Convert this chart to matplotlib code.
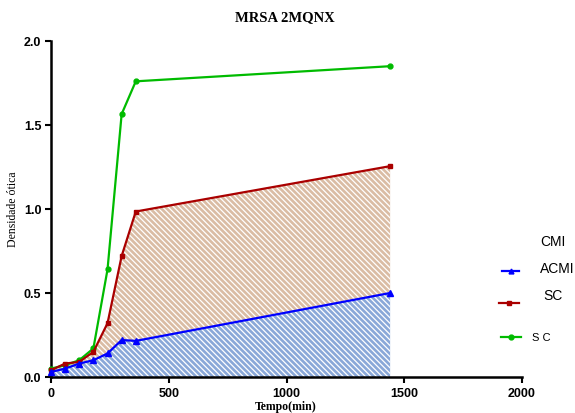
import matplotlib
matplotlib.use("Agg")
import matplotlib.pyplot as plt
from matplotlib.lines import Line2D

time_min = [0, 60, 120, 180, 240, 300, 360, 1440]
acmi = [0.03, 0.05, 0.08, 0.10, 0.14, 0.22, 0.215, 0.50]
sc_red = [0.04, 0.08, 0.09, 0.15, 0.32, 0.72, 0.985, 1.255]
sc_green = [0.05, 0.07, 0.10, 0.17, 0.64, 1.565, 1.76, 1.85]

x_ticks = [0, 500, 1000, 1500, 2000]
y_ticks = [0.0, 0.5, 1.0, 1.5, 2.0]
x_tick_labels = ["0", "500", "1000", "1500", "2000"]
y_tick_labels = ["0.0", "0.5", "1.0", "1.5", "2.0"]

plt.rcParams['hatch.linewidth'] = 0.9

fig = plt.figure(figsize=(5.75, 4.14), dpi=100)
ax = fig.add_axes([51/575, 1 - 378/414, (522-51)/575, (378-42)/414])

ax.fill_between(time_min, 0, acmi, facecolor='#8aa8d8', edgecolor='white',
                hatch='\\\\\\\\\\\\', linewidth=0, zorder=1)
ax.fill_between(time_min, acmi, sc_red, facecolor='#dabca4', edgecolor='white',
                hatch='\\\\\\\\\\\\', linewidth=0, zorder=1)

ax.plot(time_min, sc_green, color='#00bb00', marker='o', markersize=3.5, linewidth=1.6, zorder=3, clip_on=False)
ax.plot(time_min, sc_red, color='#aa0000', marker='s', markersize=3.5, linewidth=1.6, zorder=3, clip_on=False)
ax.plot(time_min, acmi, color='#0000ff', marker='^', markersize=4, linewidth=1.6, zorder=4, clip_on=False)

ax.set_xlim(0, 2000)
ax.set_ylim(0, 2.0)
ax.set_xticks(x_ticks)
ax.set_xticklabels(x_tick_labels, fontfamily='Liberation Sans', fontweight='bold', fontsize=9)
ax.set_yticks(y_ticks)
ax.set_yticklabels(y_tick_labels, fontfamily='Liberation Sans', fontweight='bold', fontsize=9)
ax.tick_params(direction='out', length=4, width=1.5, pad=3)
for s in ['top', 'right']:
    ax.spines[s].set_visible(False)
for s in ['left', 'bottom']:
    ax.spines[s].set_linewidth(1.8)

fig.text(285/575, 1 - 18/414, "MRSA 2MQNX", ha='center', va='center',
         fontfamily='Liberation Serif', fontweight='bold', fontsize=10.5)
fig.text(286/575, 1 - 407/414, "Tempo(min)", ha='center', va='center',
         fontfamily='Liberation Serif', fontweight='bold', fontsize=8.5)
fig.text(13/575, 1 - 209/414, "Densidade ótica", ha='center', va='center', rotation=90,
         fontfamily='Liberation Serif', fontsize=8.5)

# legend
fig.text(540/575, 1 - 242/414, "CMI", ha='left', va='center', fontfamily='Liberation Sans', fontsize=10)
fig.text(540/575, 1 - 269/414, "ACMI", ha='left', va='center', fontfamily='Liberation Sans', fontsize=10)
fig.text(543/575, 1 - 296/414, "SC", ha='left', va='center', fontfamily='Liberation Sans', fontsize=10)
fig.text(532/575, 1 - 338/414, "S C", ha='left', va='center', fontfamily='Liberation Sans', fontsize=8)
for (x0, x1, y, c, m) in [(502, 519, 272, '#0000ff', '^'), (499, 519, 304, '#aa0000', 's'),
                          (501, 521, 338, '#00bb00', 'o')]:
    fig.add_artist(Line2D([x0/575, x1/575], [1 - y/414, 1 - y/414], color=c, linewidth=1.6))
    fig.add_artist(Line2D([(x0+x1)/2/575], [1 - y/414], color=c, marker=m, markersize=3.5))

fig.savefig("out.png", dpi=100)
